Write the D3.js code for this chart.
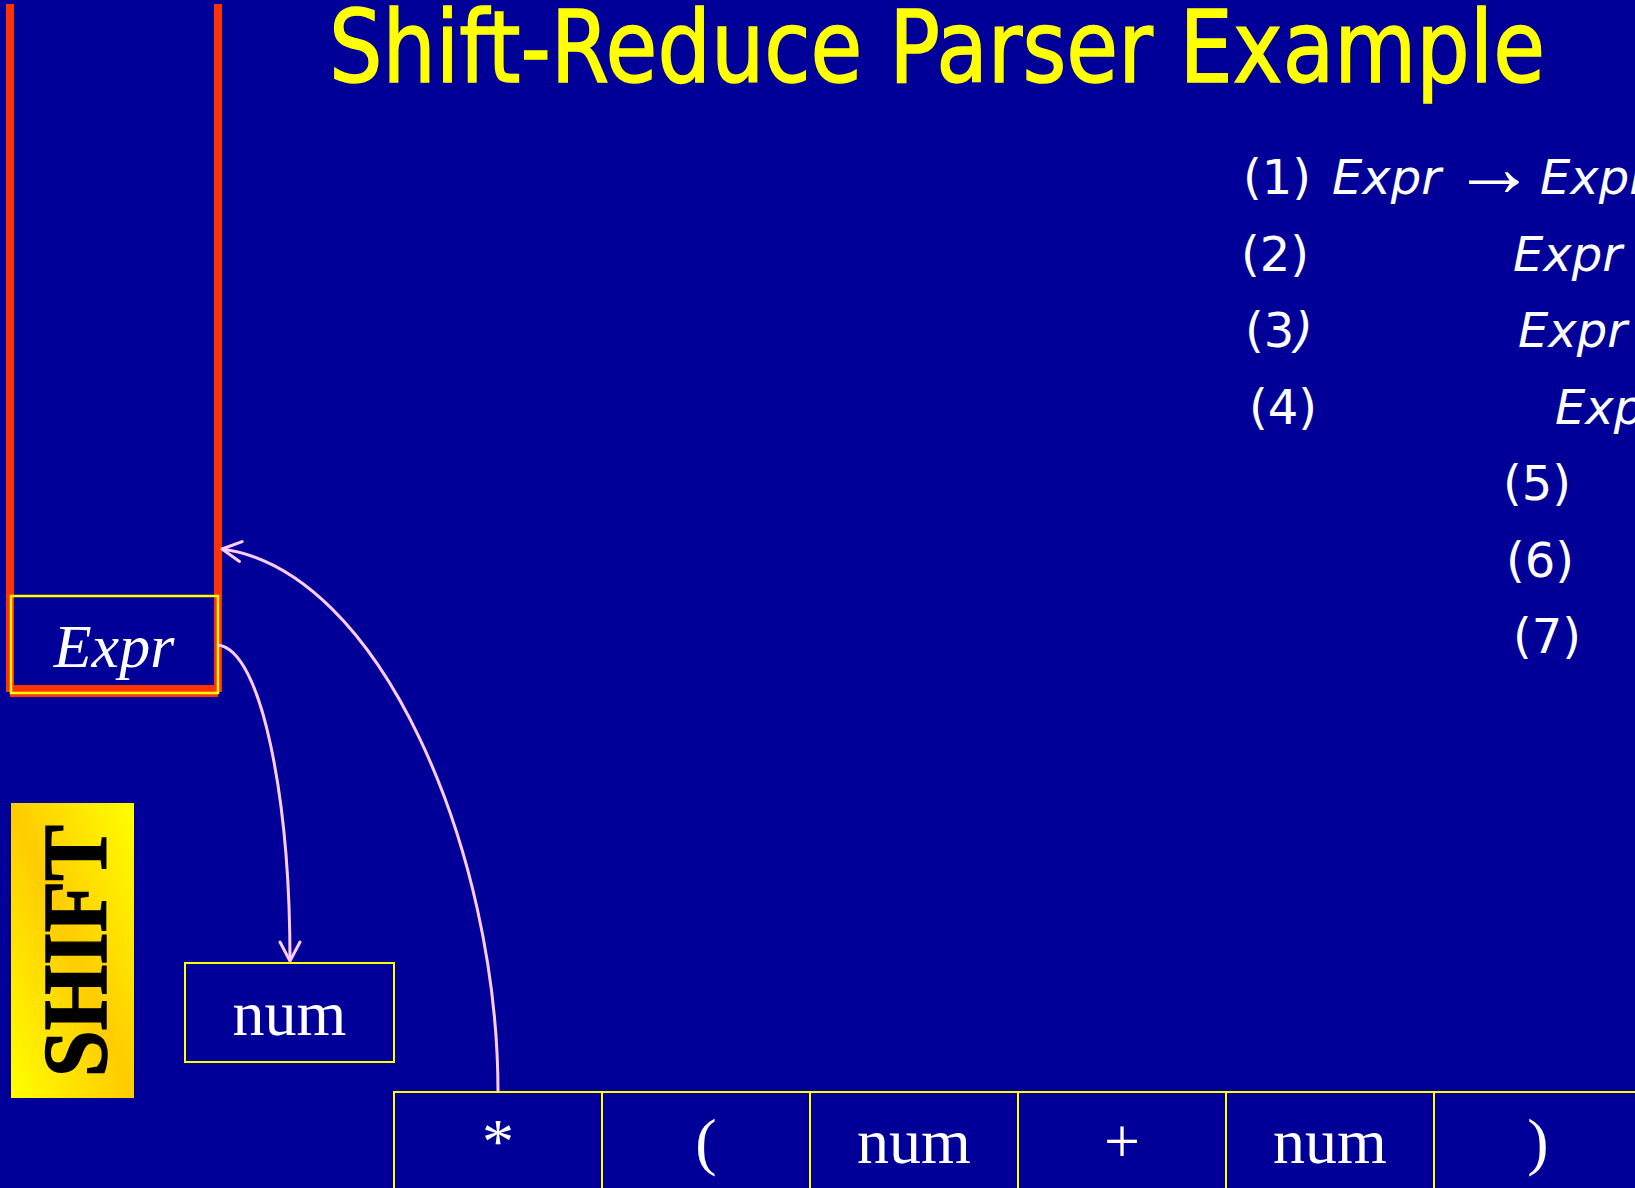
<!DOCTYPE html>
<html>
<head>
<meta charset="utf-8">
<script src="https://cdn.jsdelivr.net/npm/d3@7"></script>
<style>
  body { margin: 0; background: #000099; overflow: hidden; }
  svg { display: block; }
</style>
</head>
<body>
<div id="slide"></div>
<script>
var svgWidth = 1635;
var svgHeight = 1188;

// parser state
const titleText = "Shift-Reduce Parser Example";
const stackItems = ["Expr"];
const currentSymbol = ["num"];
const inputTokens = ["*", "(", "num", "+", "num", ")"];
const actionLabel = "SHIFT";

// grammar
const ruleNumbers = ["(1)", "(2)", "(3)", "(4)", "(5)", "(6)", "(7)"];
const ruleLhs = ["Expr", "Expr", "Expr", "Expr", "Op", "Op", "Op"];
const ruleRhs = ["Expr Op Expr", "( Expr )", "- Expr", "num", "+", "-", "*"];

// layout of the grammar rows (the slide indents them unevenly)
const numX = [1243, 1241, 1245, 1249, 1503, 1506, 1513];
const lhsX = [1332, 1513, 1518, 1555, 1640, 1640, 1640];
const arrowX = [1468, 1640, 1670, 1700, 1780, 1780, 1780];
const rhsX = [1540, 1760, 1800, 1840, 1880, 1880, 1880];

const pink = "#FFCCFF";
const yellow = "#FFFF00";

const svg = d3.select("#slide")
  .append("svg")
  .attr("width", svgWidth)
  .attr("height", svgHeight);

svg.append("rect")
  .attr("width", svgWidth)
  .attr("height", svgHeight)
  .attr("fill", "#000099");

const defs = svg.append("defs");

const grad = defs.append("linearGradient")
  .attr("id", "shiftGrad")
  .attr("x1", 0).attr("y1", 1)
  .attr("x2", 1).attr("y2", 0);
grad.append("stop").attr("offset", 0).attr("stop-color", "#FFFF00");
grad.append("stop").attr("offset", 0.5).attr("stop-color", "#FFCC00");
grad.append("stop").attr("offset", 1).attr("stop-color", "#FFFF00");

defs.append("marker")
  .attr("id", "head")
  .attr("markerUnits", "userSpaceOnUse")
  .attr("viewBox", "-22 -12 24 24")
  .attr("markerWidth", 24)
  .attr("markerHeight", 24)
  .attr("refX", 0)
  .attr("refY", 0)
  .attr("orient", "auto")
  .append("path")
  .attr("d", "M-19,-10L0,0L-19,10")
  .attr("fill", "none")
  .attr("stroke", pink)
  .attr("stroke-width", 3)
  .attr("stroke-linecap", "round")
  .attr("stroke-linejoin", "round");

// title
svg.append("text")
  .attr("x", 329)
  .attr("y", 82)
  .attr("textLength", 1216)
  .attr("lengthAdjust", "spacingAndGlyphs")
  .style("font-family", "'DejaVu Sans', sans-serif")
  .style("font-size", "99px")
  .attr("fill", yellow)
  .attr("stroke", yellow)
  .attr("stroke-width", 1.5)
  .text(titleText);

// stack (open at the top)
const stackG = svg.append("g");
stackG.append("line")
  .attr("x1", 10).attr("y1", 4).attr("x2", 10).attr("y2", 692)
  .attr("stroke", "#FF3300").attr("stroke-width", 8);
stackG.append("line")
  .attr("x1", 218).attr("y1", 4).attr("x2", 218).attr("y2", 692)
  .attr("stroke", "#FF3300").attr("stroke-width", 8);
stackG.append("line")
  .attr("x1", 10).attr("y1", 691).attr("x2", 218).attr("y2", 691)
  .attr("stroke", "#FF3300").attr("stroke-width", 12);

// bottom of the stack is item 0
const stackY = d3.scaleBand()
  .domain(d3.range(stackItems.length))
  .range([694, 694 - 98 * stackItems.length]);

const stackCells = stackG.selectAll("g.cell")
  .data(stackItems)
  .enter()
  .append("g")
  .attr("class", "cell");

stackCells.append("rect")
  .attr("x", 11)
  .attr("y", (d, i) => stackY(i))
  .attr("width", 207)
  .attr("height", stackY.bandwidth() - 1)
  .attr("fill", "none")
  .attr("stroke", yellow)
  .attr("stroke-width", 2.5);

stackCells.append("text")
  .attr("x", 114)
  .attr("y", (d, i) => stackY(i) + 71)
  .attr("text-anchor", "middle")
  .style("font-family", "'Liberation Serif', serif")
  .style("font-style", "italic")
  .style("font-size", "62px")
  .attr("fill", "white")
  .text(d => d);

// SHIFT action box
svg.append("rect")
  .attr("x", 11)
  .attr("y", 803)
  .attr("width", 123)
  .attr("height", 295)
  .attr("fill", "url(#shiftGrad)");

svg.append("text")
  .attr("transform", "translate(106, 951) rotate(-90)")
  .attr("text-anchor", "middle")
  .attr("textLength", 252)
  .attr("lengthAdjust", "spacingAndGlyphs")
  .style("font-family", "'Liberation Serif', serif")
  .style("font-weight", "bold")
  .style("font-size", "92px")
  .attr("fill", "black")
  .attr("stroke", "black")
  .attr("stroke-width", 1.5)
  .text(actionLabel);

// symbol being shifted
const symG = svg.selectAll("g.sym")
  .data(currentSymbol)
  .enter()
  .append("g")
  .attr("class", "sym");

symG.append("rect")
  .attr("x", 185).attr("y", 963)
  .attr("width", 209).attr("height", 99)
  .attr("fill", "none")
  .attr("stroke", yellow)
  .attr("stroke-width", 2);

symG.append("text")
  .attr("x", 289.5).attr("y", 1035)
  .attr("text-anchor", "middle")
  .style("font-family", "'Liberation Serif', serif")
  .style("font-size", "64px")
  .attr("fill", "white")
  .text(d => d);

// remaining input
const inputX = d3.scaleBand()
  .domain(d3.range(inputTokens.length))
  .range([394, 394 + 208 * inputTokens.length]);

const inputCells = svg.selectAll("g.input")
  .data(inputTokens)
  .enter()
  .append("g")
  .attr("class", "input");

inputCells.append("rect")
  .attr("x", (d, i) => inputX(i))
  .attr("y", 1092)
  .attr("width", inputX.bandwidth())
  .attr("height", 140)
  .attr("fill", "none")
  .attr("stroke", yellow)
  .attr("stroke-width", 2);

inputCells.append("text")
  .attr("x", (d, i) => inputX(i) + inputX.bandwidth() / 2)
  .attr("y", 1163)
  .attr("text-anchor", "middle")
  .style("font-family", "'Liberation Serif', serif")
  .style("font-size", "64px")
  .attr("fill", "white")
  .text(d => d);

// arrows
const toSym = d3.path();
toSym.moveTo(218, 645);
toSym.bezierCurveTo(262, 650, 290, 800, 290, 961);

const toStack = d3.path();
toStack.moveTo(inputX(0) + inputX.bandwidth() / 2, 1092);
toStack.bezierCurveTo(498, 850, 380, 570, 222, 549);

svg.selectAll("path.move")
  .data([toSym.toString(), toStack.toString()])
  .enter()
  .append("path")
  .attr("class", "move")
  .attr("d", d => d)
  .attr("fill", "none")
  .attr("stroke", pink)
  .attr("stroke-width", 3)
  .attr("marker-end", "url(#head)");

// grammar rules
const rowY = d3.scaleLinear()
  .domain([0, ruleNumbers.length - 1])
  .range([194, 653]);

const rules = svg.selectAll("g.rule")
  .data(ruleNumbers)
  .enter()
  .append("g")
  .attr("class", "rule")
  .style("font-family", "'DejaVu Sans', sans-serif")
  .style("font-size", "48px")
  .attr("fill", "white");

rules.append("text")
  .attr("x", (d, i) => numX[i])
  .attr("y", (d, i) => rowY(i))
  .each(function(d, i) {
    var t = d3.select(this);
    if (i === 2) {
      // this one has a slanted closing paren on the slide
      t.append("tspan").text(d.slice(0, -1));
      t.append("tspan").style("font-style", "italic").text(d.slice(-1));
    } else {
      t.text(d);
    }
  });

rules.append("text")
  .attr("x", (d, i) => lhsX[i])
  .attr("y", (d, i) => rowY(i))
  .style("font-style", "italic")
  .text((d, i) => ruleLhs[i]);

rules.append("text")
  .attr("x", (d, i) => arrowX[i] - 16)
  .attr("y", (d, i) => rowY(i) + 2)
  .style("font-family", "'Liberation Serif', serif")
  .style("font-size", "84px")
  .text("\u2192");

rules.append("text")
  .attr("x", (d, i) => rhsX[i])
  .attr("y", (d, i) => rowY(i))
  .style("font-style", "italic")
  .text((d, i) => ruleRhs[i]);
</script>
</body>
</html>
